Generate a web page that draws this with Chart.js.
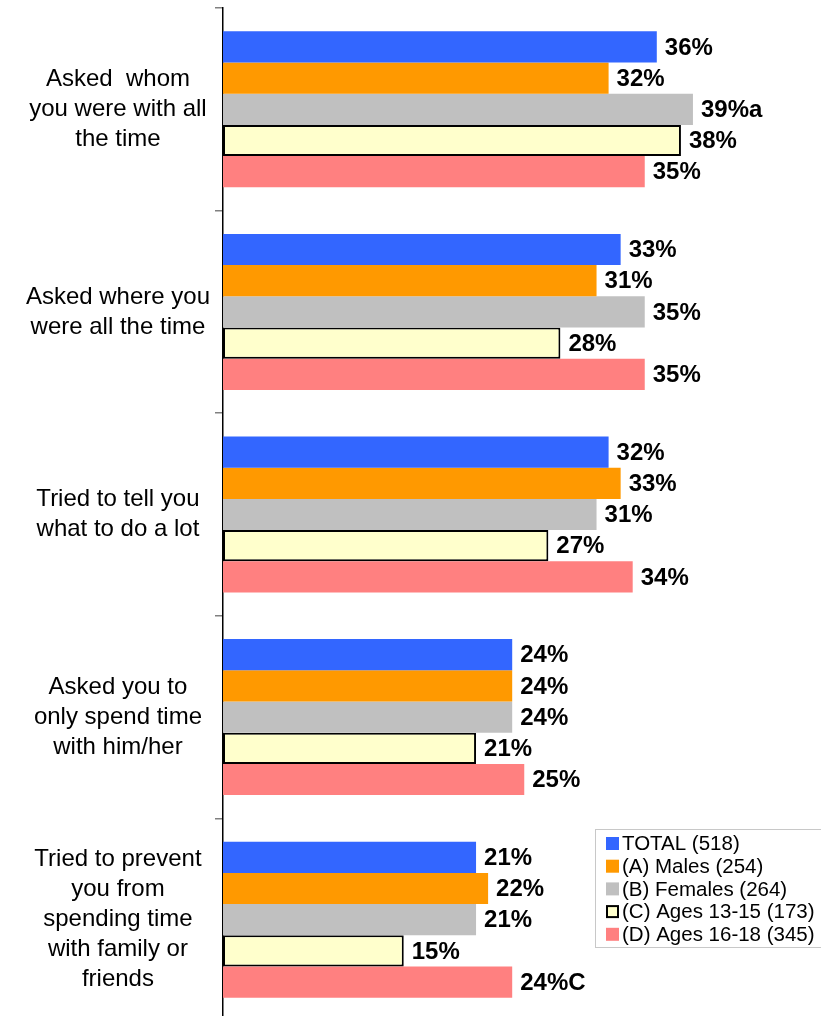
<!DOCTYPE html>
<html>
<head>
<meta charset="utf-8">
<script src="https://cdn.jsdelivr.net/npm/chart.js@4"></script>
<style>
  html, body { margin: 0; padding: 0; background: #fff; overflow: hidden; }
  #wrap { width: 821px; height: 1016px; overflow: hidden; }
</style>
</head>
<body>
<div id="wrap"><canvas id="barChart" width="821" height="1021"></canvas></div>
<script>
// Categories (multi-line labels)
const categories = [
    ['Asked  whom', 'you were with all', 'the time'],
    ['Asked where you', 'were all the time'],
    ['Tried to tell you', 'what to do a lot'],
    ['Asked you to', 'only spend time', 'with him/her'],
    ['Tried to prevent', 'you from', 'spending time', 'with family or', 'friends']
];

// Series values (%)
const totalValues   = [36, 33, 32, 24, 21];
const malesValues   = [32, 31, 33, 24, 22];
const femalesValues = [39, 35, 31, 24, 21];
const ages1315      = [38, 28, 27, 21, 15];
const ages1618      = [35, 35, 34, 25, 24];

// Significance letters after the value
const totalNotes   = ['', '', '', '', ''];
const malesNotes   = ['', '', '', '', ''];
const femalesNotes = ['a', '', '', '', ''];
const ages1315Notes = ['', '', '', '', ''];
const ages1618Notes = ['', '', '', '', 'C'];

const seriesLabels = ['TOTAL (518)', '(A) Males (254)', '(B) Females (264)', '(C) Ages 13-15 (173)', '(D) Ages 16-18 (345)'];

const FONT = 'Arial, "Liberation Sans", sans-serif';

// Value labels at the end of each bar
const valueLabels = {
    id: 'valueLabels',
    afterDatasetsDraw(chart) {
        const ctx = chart.ctx;
        ctx.save();
        ctx.font = 'bold 24px ' + FONT;
        ctx.fillStyle = '#000';
        ctx.textAlign = 'left';
        ctx.textBaseline = 'middle';
        chart.data.datasets.forEach((ds, i) => {
            chart.getDatasetMeta(i).data.forEach((bar, j) => {
                ctx.fillText(ds.data[j] + '%' + ds.notes[j], bar.x + 8, bar.y + 1);
            });
        });
        ctx.restore();
    }
};

// Boxed legend in the lower right corner
const boxLegend = {
    id: 'boxLegend',
    afterDraw(chart) {
        const ctx = chart.ctx;
        ctx.save();
        ctx.fillStyle = '#fff';
        ctx.fillRect(595, 829, 240, 118);
        ctx.strokeStyle = '#c8c8c8';
        ctx.lineWidth = 1;
        ctx.strokeRect(595.5, 829.5, 240, 118);
        ctx.font = '20.5px ' + FONT;
        ctx.textBaseline = 'middle';
        ctx.textAlign = 'left';
        chart.data.datasets.forEach((ds, i) => {
            const cy = 843.5 + i * 22.7;
            ctx.fillStyle = ds.backgroundColor;
            ctx.fillRect(606, cy - 6.5, 13, 13);
            if (ds.borderWidth) {
                ctx.strokeStyle = '#000';
                ctx.lineWidth = 2;
                ctx.strokeRect(607, cy - 5.5, 11, 11);
            }
            ctx.fillStyle = '#000';
            ctx.fillText(ds.label, 622, cy + 1);
        });
        ctx.restore();
    }
};

function makeSet(label, data, notes, color, border) {
    return {
        label: label,
        data: data,
        notes: notes,
        backgroundColor: color,
        borderColor: '#000',
        borderWidth: border ? 2 : 0,
        borderSkipped: false
    };
}

const ctx = document.getElementById('barChart').getContext('2d');
new Chart(ctx, {
    type: 'bar',
    data: {
        labels: categories,
        datasets: [
            makeSet(seriesLabels[0], totalValues, totalNotes, '#3366ff', false),
            makeSet(seriesLabels[1], malesValues, malesNotes, '#ff9900', false),
            makeSet(seriesLabels[2], femalesValues, femalesNotes, '#c0c0c0', false),
            makeSet(seriesLabels[3], ages1315, ages1315Notes, '#ffffcc', true),
            makeSet(seriesLabels[4], ages1618, ages1618Notes, '#ff8080', false)
        ]
    },
    options: {
        indexAxis: 'y',
        responsive: false,
        animation: false,
        layout: { padding: { top: 8, right: 116, bottom: 0, left: 0 } },
        datasets: { bar: { categoryPercentage: 0.77, barPercentage: 1 } },
        scales: {
            x: { display: false, min: 0, max: 40 },
            y: {
                afterFit: (scale) => {
                    scale.width = 223;
                    scale.paddingTop = 0;
                    scale.paddingBottom = 0;
                },
                border: { display: true, color: '#000', width: 1.5 },
                grid: {
                    offset: true,
                    drawOnChartArea: false,
                    drawTicks: true,
                    tickLength: 8,
                    tickColor: '#808080',
                    lineWidth: 1.5
                },
                ticks: {
                    crossAlign: 'center',
                    padding: 5,
                    color: '#000',
                    font: { family: FONT, size: 24, lineHeight: 1.25 }
                }
            }
        },
        plugins: {
            legend: { display: false },
            tooltip: { enabled: false }
        }
    },
    plugins: [valueLabels, boxLegend]
});
</script>
</body>
</html>
